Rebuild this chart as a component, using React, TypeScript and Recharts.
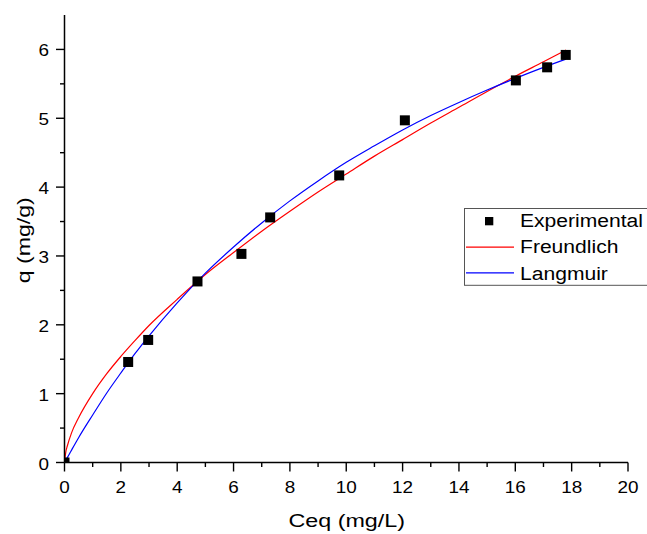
import { ComposedChart, Line, Scatter, XAxis, YAxis, Label } from "recharts"

// experimental points (Ceq in mg/L, q in mg/g)
const expC = [0, 2.26, 2.97, 4.72, 6.28, 7.3, 9.75, 12.08, 16.02, 17.13, 17.79]
const expQ = [0, 1.46, 1.78, 2.63, 3.03, 3.56, 4.17, 4.97, 5.55, 5.74, 5.92]

// fitted curves
const fitC = [0, 0.05, 0.1, 0.25, 0.5, 1, 1.5, 2, 2.5, 3, 4, 5, 6, 7, 8, 9, 10, 11, 12, 13, 14, 15, 16, 17, 17.8]
const freundlichQ = [0, 0.16, 0.24, 0.43, 0.65, 1.0, 1.29, 1.54, 1.77, 1.99, 2.37, 2.73, 3.05, 3.36, 3.65, 3.93, 4.19, 4.45, 4.69, 4.93, 5.16, 5.39, 5.61, 5.82, 5.99]
const langmuirQ = [0, 0.04, 0.07, 0.18, 0.36, 0.69, 1.01, 1.3, 1.58, 1.84, 2.32, 2.75, 3.13, 3.48, 3.8, 4.09, 4.36, 4.6, 4.83, 5.04, 5.23, 5.41, 5.58, 5.74, 5.86]

const xTicks = [0, 1, 2, 3, 4, 5, 6, 7, 8, 9, 10, 11, 12, 13, 14, 15, 16, 17, 18, 19, 20]
const yTicks = [0, 0.5, 1, 1.5, 2, 2.5, 3, 3.5, 4, 4.5, 5, 5.5, 6]

const legendItems = ["Experimental", "Freundlich", "Langmuir"]

const FONT = '"Liberation Sans", Arial, Helvetica, sans-serif'

const curveRows = fitC.map((c, i) => ({ c, freundlich: freundlichQ[i], langmuir: langmuirQ[i] }))
const expRows = expC.map((c, i) => ({ c, q: expQ[i] }))

function XTick(props: any) {
  const { x, y, payload } = props
  const v = payload.value
  const major = v % 2 === 0
  return (
    <g>
      <line x1={x} x2={x} y1={y} y2={y + (major ? 9 : 4.5)} stroke="#000" strokeWidth={1.4} />
      {major && (
        <text transform={`translate(${x},${y + 30}) scale(1.16,1)`} textAnchor="middle" fontSize={16.3} fontFamily={FONT} fill="#000">
          {v}
        </text>
      )}
    </g>
  )
}

function YTick(props: any) {
  const { x, y, payload } = props
  const v = payload.value
  const major = Number.isInteger(v)
  return (
    <g>
      <line x1={x - (major ? 8.5 : 4.5)} x2={x} y1={y} y2={y} stroke="#000" strokeWidth={1.4} />
      {major && (
        <text transform={`translate(${x - 15.5},${y + 7}) scale(1.16,1)`} textAnchor="end" fontSize={16.3} fontFamily={FONT} fill="#000">
          {v}
        </text>
      )}
    </g>
  )
}

function XTitle(props: any) {
  const vb = props.viewBox || { x: 64.5, width: 563.5 }
  return (
    <text transform={`translate(${vb.x + vb.width / 2 + 0.5},527) scale(1.24,1)`} textAnchor="middle" fontSize={18.8} fontFamily={FONT} fill="#000">
      Ceq (mg/L)
    </text>
  )
}

function YTitle(props: any) {
  const vb = props.viewBox || { y: 15, height: 447.5 }
  return (
    <text transform={`translate(30,${vb.y + vb.height / 2 + 1.5}) rotate(-90) scale(1.23,1)`} textAnchor="middle" fontSize={18.8} fontFamily={FONT} fill="#000">
      q (mg/g)
    </text>
  )
}

function Square(props: any) {
  const { cx, cy } = props
  return <rect x={cx - 5} y={cy - 5} width={10} height={10} fill="#000" />
}

function LegendBox() {
  return (
    <div style={{ position: "absolute", left: 464, top: 207.5, width: 200, height: 78 }}>
      <svg width={200} height={78}>
        <rect x={0.5} y={0.5} width={199} height={76.8} fill="#fff" stroke="#555" strokeWidth={1} />
        <rect x={21} y={9} width={8.3} height={8.3} fill="#000" />
        <line x1={2} x2={50} y1={39.2} y2={39.2} stroke="#ff0000" strokeWidth={1.2} />
        <line x1={2} x2={50} y1={64.8} y2={64.8} stroke="#0000ff" strokeWidth={1.2} />
        {legendItems.map((t, i) => (
          <text key={t} transform={`translate(56,${18.5 + i * 26.7}) scale(1.11,1)`} fontSize={19} fontFamily={FONT} fill="#000">
            {t}
          </text>
        ))}
      </svg>
    </div>
  )
}

export default function App() {
  return (
    <div style={{ position: "absolute", left: 0, top: 0, width: 647, height: 534, overflow: "hidden", background: "#fff" }}>
      <ComposedChart width={647} height={534} data={curveRows} margin={{ top: 15, right: 19, left: 0, bottom: 0 }}>
        <XAxis
          dataKey="c"
          type="number"
          domain={[0, 20]}
          ticks={xTicks}
          interval={0}
          allowDataOverflow
          tick={<XTick />}
          tickSize={0}
          tickMargin={0}
          tickLine={false}
          axisLine={{ stroke: "#000", strokeWidth: 1.5 }}
          height={71.5}
        >
          <Label content={XTitle} />
        </XAxis>
        <YAxis
          type="number"
          domain={[0, 6.5]}
          ticks={yTicks}
          interval={0}
          allowDataOverflow
          tick={<YTick />}
          tickSize={0}
          tickMargin={0}
          tickLine={false}
          axisLine={{ stroke: "#000", strokeWidth: 1.5 }}
          width={64.5}
        >
          <Label content={YTitle} />
        </YAxis>
        <Line dataKey="freundlich" type="monotone" stroke="#ff0000" strokeWidth={1.2} dot={false} isAnimationActive={false} />
        <Line dataKey="langmuir" type="monotone" stroke="#0000ff" strokeWidth={1.2} dot={false} isAnimationActive={false} />
        <Scatter data={expRows} dataKey="q" shape={Square} isAnimationActive={false} />
      </ComposedChart>
      <LegendBox />
    </div>
  )
}
